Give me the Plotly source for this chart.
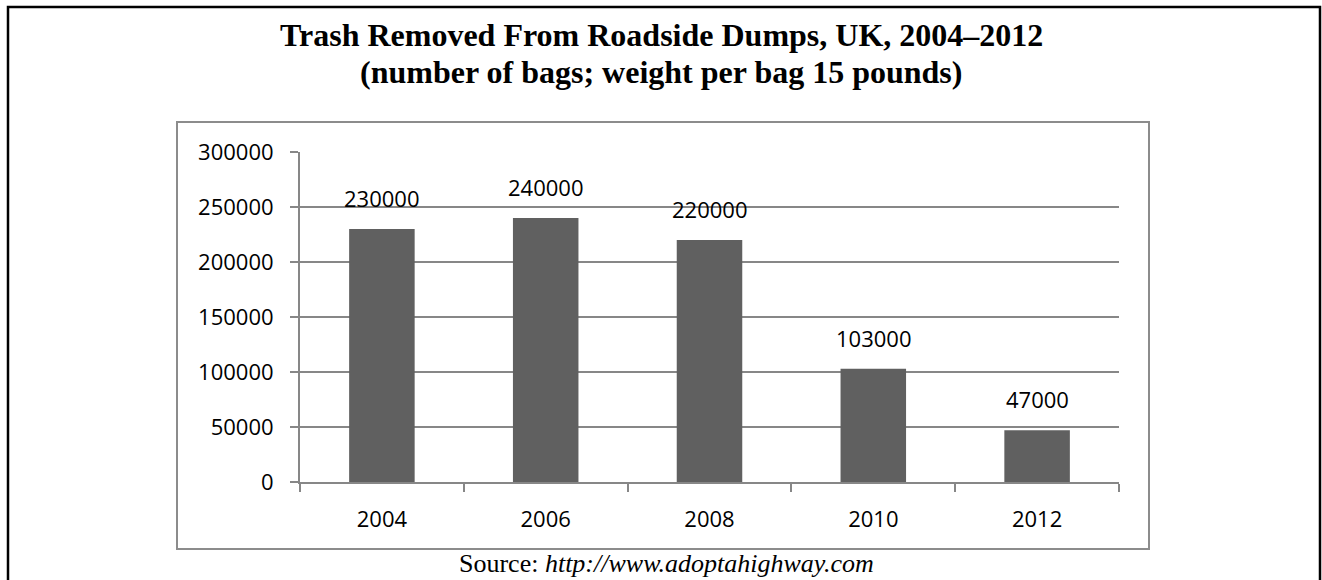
import plotly.graph_objects as go

# Bags of trash collected per survey year
years = ["2004", "2006", "2008", "2010", "2012"]
bags = [230000, 240000, 220000, 103000, 47000]
y_ticks = [0, 50000, 100000, 150000, 200000, 250000, 300000]

W, H = 1322, 580
L, R, T, B = 300, 1119, 152, 482  # plot area in pixels


def px_x(x):
    return (x - L) / (R - L)


def px_y(y):
    return (B - y) / (B - T)


GRID = "#878787"
TICK_FONT = dict(family="Open Sans, Liberation Sans, sans-serif", size=22, color="#000000")

fig = go.Figure()
fig.add_trace(go.Bar(
    x=years,
    y=bags,
    marker=dict(color="#606060", line=dict(width=0)),
    width=0.4,
    hoverinfo="x+y",
))

# value labels above each bar (category index positions)
for i, v in enumerate(bags):
    fig.add_annotation(
        x=i, y=v, text=str(v), showarrow=False,
        yanchor="bottom", yshift=14, font=TICK_FONT,
    )

title_font = dict(family="Liberation Serif, Times New Roman, serif", size=32, color="#000000")
fig.add_annotation(
    xref="paper", yref="paper", x=px_x(661), y=px_y(35),
    text="<b>Trash Removed From Roadside Dumps, UK, 2004–2012</b>",
    showarrow=False, xanchor="center", yanchor="middle", font=title_font,
)
fig.add_annotation(
    xref="paper", yref="paper", x=px_x(661), y=px_y(72),
    text="<b>(number of bags; weight per bag 15 pounds)</b>",
    showarrow=False, xanchor="center", yanchor="middle", font=title_font,
)
fig.add_annotation(
    xref="paper", yref="paper", x=px_x(666), y=px_y(563),
    text="Source: <i>http://www.adoptahighway.com</i>",
    showarrow=False, xanchor="center", yanchor="middle",
    font=dict(family="Liberation Serif, Times New Roman, serif", size=26, color="#000000"),
)

# chart frame and outer page border
fig.add_shape(type="rect", xref="paper", yref="paper",
              x0=px_x(177), x1=px_x(1149), y0=px_y(549), y1=px_y(122),
              line=dict(color="#8c8c8c", width=2), layer="below")
fig.add_shape(type="rect", xref="paper", yref="paper",
              x0=px_x(8), x1=px_x(1320), y0=px_y(600), y1=px_y(7),
              line=dict(color="#000000", width=2.5), layer="below")

fig.update_layout(
    width=W, height=H,
    margin=dict(l=L, r=W - R, t=T, b=H - B, pad=0),
    paper_bgcolor="#ffffff",
    plot_bgcolor="#ffffff",
    showlegend=False,
    bargap=0.6,
    xaxis=dict(
        type="category",
        range=[-0.5, len(years) - 0.5],
        showline=True, linecolor=GRID, linewidth=2,
        ticks="outside", ticklen=8, tickcolor=GRID, tickwidth=2,
        tickson="boundaries",
        tickangle=0,
        showgrid=False,
        tickfont=TICK_FONT,
        ticklabelstandoff=17,
    ),
    yaxis=dict(
        range=[0, 300000],
        tickvals=y_ticks,
        ticktext=[str(v) for v in y_ticks],
        showline=True, linecolor=GRID, linewidth=2,
        ticks="outside", ticklen=8, tickcolor=GRID, tickwidth=2,
        showgrid=True, gridcolor=GRID, gridwidth=2,
        zeroline=False,
        tickfont=TICK_FONT,
        ticklabelstandoff=12,
    ),
)

fig.write_html("out.html")
